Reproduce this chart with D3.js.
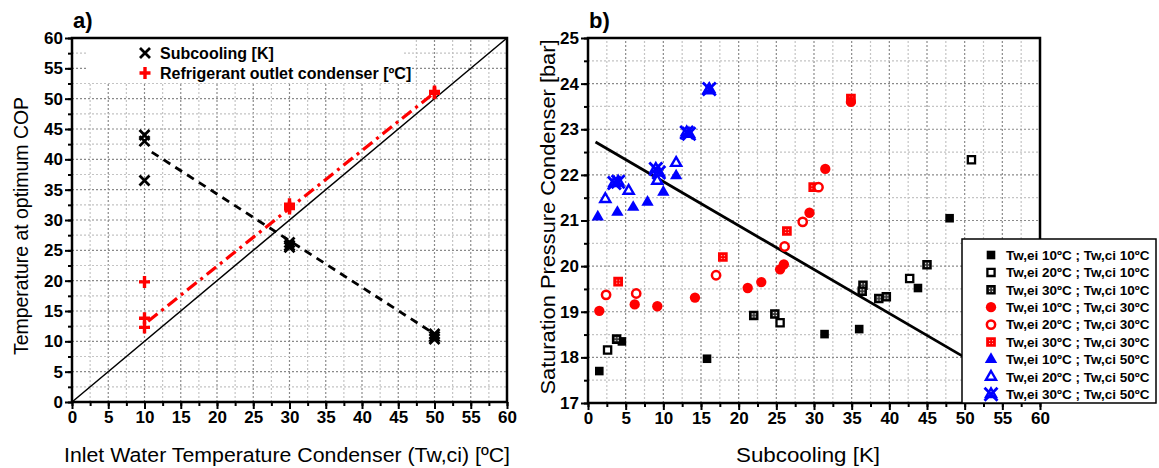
<!DOCTYPE html>
<html>
<head>
<meta charset="utf-8">
<script src="https://cdn.jsdelivr.net/npm/d3@7"></script>
<style>
  body { margin: 0; background: #fff; }
  text { font-family: "Liberation Sans", Arial, sans-serif; }
</style>
</head>
<body>
<svg id="chart"></svg>
<script>
// ---- data, panel a) ----
let inletTemps = [10, 10, 10, 30, 30, 30, 50, 50, 50];
let subcoolingA = [44, 43, 36.5, 26.3, 25.8, 25.5, 11.2, 10.8, 10.4];
let refOutlet = [19.8, 13.8, 12.3, 32.6, 31.9, 32.2, 51.2, 50.9, 51.0];
let subcoolFit = [[11, 41.2], [49.5, 11.6]];
let refFit = [[10.5, 13.3], [50, 51]];
let diagonal = [[0, 0], [60, 60]];
let legendA = ["Subcooling [K]", "Refrigerant outlet condenser [ºC]"];

// ---- data, panel b) : [subcooling K, saturation pressure bar] ----
let s_ei10_ci10 = [[1.5,17.7],[4.5,18.35],[15.8,17.97],[31.4,18.51],[36.0,18.62],[43.8,19.52],[48.0,21.05]];
let s_ei20_ci10 = [[2.6,18.16],[25.5,18.76],[42.7,19.73],[50.9,22.33]];
let s_ei30_ci10 = [[3.8,18.4],[22.0,18.92],[24.8,18.95],[36.5,19.58],[36.4,19.45],[38.6,19.29],[39.6,19.33],[45.0,20.03]];
let s_ei10_ci30 = [[1.5,19.02],[6.2,19.16],[9.2,19.12],[14.2,19.31],[21.2,19.52],[23.0,19.65],[25.5,19.93],[26.0,20.04],[29.4,21.17],[31.5,22.13],[34.9,23.6]];
let s_ei20_ci30 = [[2.4,19.37],[6.4,19.4],[17.0,19.8],[26.1,20.43],[28.5,20.97],[30.6,21.73]];
let s_ei30_ci30 = [[4.0,19.66],[17.9,20.2],[26.4,20.77],[29.9,21.73],[34.9,23.67]];
let s_ei10_ci50 = [[1.3,21.08],[3.9,21.18],[6.0,21.29],[7.9,21.4],[10.0,21.62],[11.7,21.98]];
let s_ei20_ci50 = [[2.3,21.47],[5.4,21.65],[9.2,21.87],[11.7,22.26],[16.0,23.85]];
let s_ei30_ci50 = [[3.5,21.82],[4.0,21.85],[9.0,22.13],[9.4,22.05],[13.1,22.93],[13.4,22.9],[16.1,23.88]];
let pressFit = [[1, 22.72], [50, 18.0]];
let legendB = ["Tw,ei 10ºC ; Tw,ci 10ºC", "Tw,ei 20ºC ; Tw,ci 10ºC", "Tw,ei 30ºC ; Tw,ci 10ºC",
               "Tw,ei 10ºC ; Tw,ci 30ºC", "Tw,ei 20ºC ; Tw,ci 30ºC", "Tw,ei 30ºC ; Tw,ci 30ºC",
               "Tw,ei 10ºC ; Tw,ci 50ºC", "Tw,ei 20ºC ; Tw,ci 50ºC", "Tw,ei 30ºC ; Tw,ci 50ºC"];

let xTicksA = d3.range(0, 61, 5), yTicksA = d3.range(0, 61, 5);
let xTicksB = d3.range(0, 61, 5), yTicksB = d3.range(17, 25.01, 1);

let width = 1159, height = 468;
let svg = d3.select("#chart").attr("width", width).attr("height", height);

let blue = "#0000ff", red = "#ff0000";

// patterns for the "30ºC" squares
let defs = svg.append("defs");
function addPattern(id, bg, dot) {
  let p = defs.append("pattern").attr("id", id).attr("patternUnits", "userSpaceOnUse")
    .attr("width", 3).attr("height", 3);
  p.append("rect").attr("width", 3).attr("height", 3).attr("fill", bg);
  p.append("rect").attr("x", 1).attr("y", 1).attr("width", 1.2).attr("height", 1.2).attr("fill", dot);
}
addPattern("patk", "#3a3a3a", "#ffffff");
addPattern("patr", red, "#ffb0b0");

// scales
let xa = d3.scaleLinear().domain([0, 60]).range([72, 507]);
let ya = d3.scaleLinear().domain([0, 60]).range([402, 38]);
let xb = d3.scaleLinear().domain([0, 60]).range([588, 1040]);
let yb = d3.scaleLinear().domain([17, 25]).range([403, 38]);

function grid(g, x, y, xs, ys) {
  let gg = g.append("g");
  xs.forEach(function(v, i) {
    gg.append("line").attr("x1", x(v)).attr("x2", x(v)).attr("y1", y.range()[0]).attr("y2", y.range()[1])
      .attr("stroke", i % 2 == 0 ? "#8a8a8a" : "#c4c4c4").attr("stroke-width", 1.2)
      .attr("stroke-dasharray", "2,2");
  });
  ys.forEach(function(v, i) {
    gg.append("line").attr("y1", y(v)).attr("y2", y(v)).attr("x1", x.range()[0]).attr("x2", x.range()[1])
      .attr("stroke", i % 2 == 0 ? "#8a8a8a" : "#c4c4c4").attr("stroke-width", 1.2)
      .attr("stroke-dasharray", "2,2");
  });
}

function axes(g, x, y, xt, yt, xMinor, yMinor) {
  let x0 = x.range()[0], x1 = x.range()[1], y0 = y.range()[0], y1 = y.range()[1];
  // minor ticks
  g.append("g").attr("transform", "translate(0," + y0 + ")")
    .call(d3.axisBottom(x).tickValues(xMinor).tickSize(4).tickFormat(""))
    .call(a => a.select(".domain").remove())
    .selectAll("line").attr("stroke-width", 2);
  g.append("g").attr("transform", "translate(" + x0 + ",0)")
    .call(d3.axisLeft(y).tickValues(yMinor).tickSize(4).tickFormat(""))
    .call(a => a.select(".domain").remove())
    .selectAll("line").attr("stroke-width", 2);
  // major ticks
  let bx = g.append("g").attr("transform", "translate(0," + y0 + ")")
    .call(d3.axisBottom(x).tickValues(xt).tickSize(7).tickPadding(2).tickFormat(d3.format("d")));
  bx.select(".domain").remove();
  bx.selectAll("line").attr("stroke-width", 2);
  bx.selectAll("text").attr("font-size", 17).attr("font-weight", "bold").attr("fill", "#000")
    .style("font-family", "'Liberation Sans', Arial, sans-serif");
  let ly = g.append("g").attr("transform", "translate(" + x0 + ",0)")
    .call(d3.axisLeft(y).tickValues(yt).tickSize(7).tickPadding(2).tickFormat(d3.format("d")));
  ly.select(".domain").remove();
  ly.selectAll("line").attr("stroke-width", 2);
  ly.selectAll("text").attr("font-size", 17).attr("font-weight", "bold").attr("fill", "#000")
    .style("font-family", "'Liberation Sans', Arial, sans-serif");
  // frame
  g.append("rect").attr("x", x0).attr("y", y1).attr("width", x1 - x0).attr("height", y0 - y1)
    .attr("fill", "none").attr("stroke", "#000").attr("stroke-width", 2.5);
}

// marker shapes
let symSquare = d3.symbol(d3.symbolSquare, 74);
let symSquareO = d3.symbol(d3.symbolSquare, 52);
let symCircle = d3.symbol(d3.symbolCircle, 84);
let symCircleO = d3.symbol(d3.symbolCircle, 54);
let symTri = d3.symbol(d3.symbolTriangle, 66);
let symTriO = d3.symbol(d3.symbolTriangle, 44);

function marker(g, type, cx, cy) {
  let t = "translate(" + cx + "," + cy + ")";
  if (type == "sq") g.append("path").attr("d", symSquare()).attr("transform", t).attr("fill", "#000");
  if (type == "sqo") g.append("path").attr("d", symSquareO()).attr("transform", t)
      .attr("fill", "#fff").attr("stroke", "#000").attr("stroke-width", 2.3);
  if (type == "sqp") g.append("path").attr("d", symSquareO()).attr("transform", t)
      .attr("fill", "url(#patk)").attr("stroke", "#000").attr("stroke-width", 2.3);
  if (type == "ci") g.append("path").attr("d", symCircle()).attr("transform", t).attr("fill", red);
  if (type == "cio") g.append("path").attr("d", symCircleO()).attr("transform", t)
      .attr("fill", "#fff").attr("stroke", red).attr("stroke-width", 2.5);
  if (type == "sqr") g.append("path").attr("d", symSquareO()).attr("transform", t)
      .attr("fill", "url(#patr)").attr("stroke", red).attr("stroke-width", 2.5);
  if (type == "tri") g.append("path").attr("d", symTri()).attr("transform", t).attr("fill", blue);
  if (type == "trio") g.append("path").attr("d", symTriO()).attr("transform", t)
      .attr("fill", "#fff").attr("stroke", blue).attr("stroke-width", 2.4);
  if (type == "xtri") {
    g.append("path").attr("d", symTriO()).attr("transform", t)
      .attr("fill", "none").attr("stroke", blue).attr("stroke-width", 2.4);
    g.append("path").attr("d", "M-6.5,-6.5L6.5,6.5M-6.5,6.5L6.5,-6.5").attr("transform", t)
      .attr("fill", "none").attr("stroke", blue).attr("stroke-width", 2.8);
  }
  if (type == "x") g.append("path").attr("d", "M-5,-5L5,5M-5,5L5,-5").attr("transform", t)
      .attr("fill", "none").attr("stroke", "#000").attr("stroke-width", 2.8);
  if (type == "plus") g.append("path").attr("d", "M-5.5,0H5.5M0,-6V6").attr("transform", t)
      .attr("fill", "none").attr("stroke", red).attr("stroke-width", 3.4);
}

let line = function(x, y) { return d3.line().x(d => x(d[0])).y(d => y(d[1])); };

// ================= panel a) =================
let ga = svg.append("g");
grid(ga, xa, ya, d3.range(0, 60.01, 2.5), d3.range(0, 60.01, 2.5));
// legend background hides grid
ga.append("rect").attr("x", 87).attr("y", 39).attr("width", 317).attr("height", 43).attr("fill", "#fff");

ga.append("path").attr("d", line(xa, ya)(diagonal)).attr("stroke", "#000").attr("stroke-width", 1.5).attr("fill", "none");
ga.append("path").attr("d", line(xa, ya)(subcoolFit)).attr("stroke", "#000").attr("stroke-width", 2.8)
  .attr("stroke-dasharray", "8,6").attr("fill", "none");
ga.append("path").attr("d", line(xa, ya)(refFit)).attr("stroke", red).attr("stroke-width", 3.2)
  .attr("stroke-dasharray", "12,5,3,5").attr("fill", "none");

inletTemps.forEach(function(t, i) { marker(ga, "x", xa(t), ya(subcoolingA[i])); });
inletTemps.forEach(function(t, i) { marker(ga, "plus", xa(t), ya(refOutlet[i])); });

axes(ga, xa, ya, xTicksA, yTicksA, d3.range(0, 60.01, 2.5), d3.range(0, 60.01, 2.5));

marker(ga, "x", 145, 53);
marker(ga, "plus", 145, 73);
ga.selectAll(".lega").data(legendA).enter().append("text")
  .attr("x", 160).attr("y", (d, i) => 53 + i * 20).attr("dy", "0.36em")
  .attr("font-size", 16).attr("font-weight", "bold").text(d => d);

ga.append("text").attr("x", 73).attr("y", 28).attr("font-size", 22).attr("font-weight", "bold").text("a)");
ga.append("text").attr("x", 287).attr("y", 462).attr("text-anchor", "middle").attr("font-size", 20.5)
  .attr("textLength", 446).attr("lengthAdjust", "spacingAndGlyphs")
  .text("Inlet Water Temperature Condenser (Tw,ci) [ºC]");
ga.append("text").attr("transform", "translate(28,226) rotate(-90)").attr("text-anchor", "middle")
  .attr("font-size", 20).attr("textLength", 258).attr("lengthAdjust", "spacingAndGlyphs")
  .text("Temperature at optimum COP");

// ================= panel b) =================
let gb = svg.append("g");
grid(gb, xb, yb, d3.range(0, 60.01, 2.5), d3.range(17, 25.01, 0.5));

gb.append("path").attr("d", line(xb, yb)(pressFit)).attr("stroke", "#000").attr("stroke-width", 2.8).attr("fill", "none");

let seriesB = [
  {data: s_ei10_ci10, type: "sq"}, {data: s_ei20_ci10, type: "sqo"}, {data: s_ei30_ci10, type: "sqp"},
  {data: s_ei10_ci30, type: "ci"}, {data: s_ei20_ci30, type: "cio"}, {data: s_ei30_ci30, type: "sqr"},
  {data: s_ei10_ci50, type: "tri"}, {data: s_ei20_ci50, type: "trio"}, {data: s_ei30_ci50, type: "xtri"}
];
let drawOrder = [0, 1, 2, 5, 3, 4, 6, 7, 8];
drawOrder.forEach(function(k) {
  seriesB[k].data.forEach(function(d) { marker(gb, seriesB[k].type, xb(d[0]), yb(d[1])); });
});

axes(gb, xb, yb, xTicksB, yTicksB, d3.range(0, 60.01, 2.5), d3.range(17, 25.01, 0.5));

// legend box
gb.append("rect").attr("x", 962).attr("y", 239).attr("width", 194).attr("height", 164)
  .attr("fill", "#fff").attr("stroke", "#000").attr("stroke-width", 1.5);
seriesB.forEach(function(s, i) {
  let yy = 255 + i * 17.4;
  marker(gb, s.type, 991, yy);
  gb.append("text").attr("x", 1006).attr("y", yy).attr("dy", "0.36em")
    .attr("font-size", 13.5).attr("font-weight", "bold").text(legendB[i]);
});

gb.append("text").attr("x", 589).attr("y", 28).attr("font-size", 22).attr("font-weight", "bold").text("b)");
gb.append("text").attr("x", 808).attr("y", 462).attr("text-anchor", "middle").attr("font-size", 20.5)
  .attr("textLength", 144).attr("lengthAdjust", "spacingAndGlyphs").text("Subcooling [K]");
gb.append("text").attr("transform", "translate(555,217) rotate(-90)").attr("text-anchor", "middle")
  .attr("font-size", 20).attr("textLength", 355).attr("lengthAdjust", "spacingAndGlyphs")
  .text("Saturation Pressure Condenser [bar]");
</script>
</body>
</html>
